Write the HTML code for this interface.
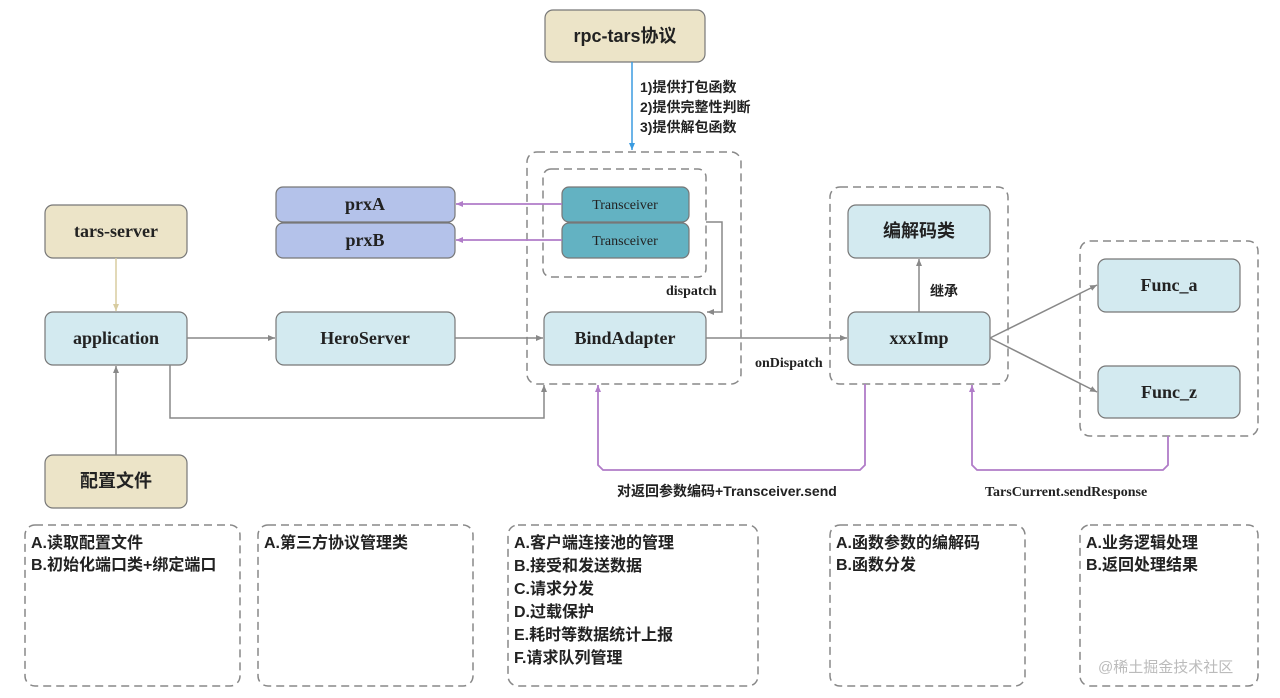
<!DOCTYPE html>
<html><head><meta charset="utf-8"><style>
body{margin:0;background:#fff}
svg{display:block}
text{font-family:"Liberation Serif","Noto Serif CJK SC",serif;font-weight:bold;fill:#222}
.cj{font-family:"Liberation Sans","Noto Sans CJK SC",sans-serif;font-weight:bold}
</style></head><body>
<svg width="1280" height="698" viewBox="0 0 1280 698" xmlns="http://www.w3.org/2000/svg">
<defs>
<marker id="ag" markerWidth="8" markerHeight="8" refX="7" refY="4" orient="auto" markerUnits="userSpaceOnUse"><path d="M0,1 L7,4 L0,7 Z" fill="#888"/></marker>
<marker id="ap" markerWidth="8" markerHeight="8" refX="7" refY="4" orient="auto" markerUnits="userSpaceOnUse"><path d="M0,1 L7,4 L0,7 Z" fill="#b07cc8"/></marker>
<marker id="ab" markerWidth="8" markerHeight="8" refX="7" refY="4" orient="auto" markerUnits="userSpaceOnUse"><path d="M0,1 L7,4 L0,7 Z" fill="#3a9be0"/></marker>
<marker id="ay" markerWidth="8" markerHeight="8" refX="7" refY="4" orient="auto" markerUnits="userSpaceOnUse"><path d="M0,1 L7,4 L0,7 Z" fill="#d8cca0"/></marker>
</defs>
<g fill="none" stroke="#888" stroke-width="1.5" stroke-dasharray="8,5">
<rect x="527" y="152" width="214" height="232" rx="10"/>
<rect x="543" y="169" width="163" height="108" rx="8"/>
<rect x="830" y="187" width="178" height="197" rx="10"/>
<rect x="1080" y="241" width="178" height="195" rx="10"/>
<rect x="25" y="525" width="215" height="161" rx="10"/>
<rect x="258" y="525" width="215" height="161" rx="10"/>
<rect x="508" y="525" width="250" height="161" rx="10"/>
<rect x="830" y="525" width="195" height="161" rx="10"/>
<rect x="1080" y="525" width="178" height="161" rx="10"/>
</g>
<g stroke="#777" stroke-width="1.2">
<rect x="545" y="10" width="160" height="52" rx="8" fill="#ece4c8"/>
<rect x="45" y="205" width="142" height="53" rx="8" fill="#ece4c8"/>
<rect x="45" y="455" width="142" height="53" rx="8" fill="#ece4c8"/>
<rect x="45" y="312" width="142" height="53" rx="8" fill="#d3eaf0"/>
<rect x="276" y="312" width="179" height="53" rx="8" fill="#d3eaf0"/>
<rect x="544" y="312" width="162" height="53" rx="8" fill="#d3eaf0"/>
<rect x="848" y="312" width="142" height="53" rx="8" fill="#d3eaf0"/>
<rect x="848" y="205" width="142" height="53" rx="8" fill="#d3eaf0"/>
<rect x="1098" y="259" width="142" height="53" rx="8" fill="#d3eaf0"/>
<rect x="1098" y="366" width="142" height="52" rx="8" fill="#d3eaf0"/>
<rect x="276" y="187" width="179" height="35" rx="7" fill="#b4c2ea"/>
<rect x="276" y="223" width="179" height="35" rx="7" fill="#b4c2ea"/>
<rect x="562" y="187" width="127" height="35" rx="7" fill="#63b2c2"/>
<rect x="562" y="223" width="127" height="35" rx="7" fill="#63b2c2"/>
</g>
<g fill="none" stroke="#888" stroke-width="1.5">
<line x1="187" y1="338" x2="275" y2="338" marker-end="url(#ag)"/>
<line x1="455" y1="338" x2="543" y2="338" marker-end="url(#ag)"/>
<line x1="706" y1="338" x2="847" y2="338" marker-end="url(#ag)"/>
<line x1="116" y1="455" x2="116" y2="366" marker-end="url(#ag)"/>
<polyline points="170,365 170,418 544,418 544,385" marker-end="url(#ag)"/>
<polyline points="706,222 722,222 722,312 707,312" marker-end="url(#ag)"/>
<line x1="919" y1="312" x2="919" y2="259" marker-end="url(#ag)"/>
<line x1="990" y1="338" x2="1097" y2="285" marker-end="url(#ag)"/>
<line x1="990" y1="338" x2="1097" y2="392" marker-end="url(#ag)"/>
</g>
<line x1="116" y1="258" x2="116" y2="311" stroke="#d8cca0" stroke-width="1.5" marker-end="url(#ay)"/>
<line x1="632" y1="62" x2="632" y2="150" stroke="#3a9be0" stroke-width="1.5" marker-end="url(#ab)"/>
<g fill="none" stroke="#b07cc8" stroke-width="1.8">
<line x1="562" y1="204" x2="456" y2="204" marker-end="url(#ap)"/>
<line x1="562" y1="240" x2="456" y2="240" marker-end="url(#ap)"/>
<polyline points="865,384 865,465 860,470 603,470 598,465 598,385" marker-end="url(#ap)"/>
<polyline points="1168,436 1168,465 1163,470 977,470 972,465 972,385" marker-end="url(#ap)"/>
</g>
<g font-size="18" text-anchor="middle">
<text x="625" y="42" class="cj">rpc-tars协议</text>
<text x="116" y="237">tars-server</text>
<text x="116" y="344">application</text>
<text x="116" y="487" class="cj">配置文件</text>
<text x="365" y="344">HeroServer</text>
<text x="625" y="344">BindAdapter</text>
<text x="919" y="344">xxxImp</text>
<text x="919" y="237" class="cj">编解码类</text>
<text x="1169" y="291">Func_a</text>
<text x="1169" y="398">Func_z</text>
<text x="365" y="210">prxA</text>
<text x="365" y="246">prxB</text>
</g>
<g font-size="14" text-anchor="middle">
<text x="625" y="209" style="font-weight:normal">Transceiver</text>
<text x="625" y="245" style="font-weight:normal">Transceiver</text>
</g>
<g font-size="14">
<text x="640" y="92" class="cj">1)提供打包函数</text>
<text x="640" y="112" class="cj">2)提供完整性判断</text>
<text x="640" y="132" class="cj">3)提供解包函数</text>
<text x="666" y="295">dispatch</text>
<text x="755" y="367">onDispatch</text>
<text x="930" y="296" class="cj">继承</text>
<text x="617" y="496" class="cj">对返回参数编码+Transceiver.send</text>
<text x="985" y="496">TarsCurrent.sendResponse</text>
</g>
<g font-size="16">
<text x="31" y="548" class="cj">A.读取配置文件</text>
<text x="31" y="570" class="cj">B.初始化端口类+绑定端口</text>
<text x="264" y="548" class="cj">A.第三方协议管理类</text>
<text x="514" y="548" class="cj">A.客户端连接池的管理</text>
<text x="514" y="571" class="cj">B.接受和发送数据</text>
<text x="514" y="594" class="cj">C.请求分发</text>
<text x="514" y="617" class="cj">D.过载保护</text>
<text x="514" y="640" class="cj">E.耗时等数据统计上报</text>
<text x="514" y="663" class="cj">F.请求队列管理</text>
<text x="836" y="548" class="cj">A.函数参数的编解码</text>
<text x="836" y="570" class="cj">B.函数分发</text>
<text x="1086" y="548" class="cj">A.业务逻辑处理</text>
<text x="1086" y="570" class="cj">B.返回处理结果</text>
</g>
<text x="1098" y="672" font-size="15" class="cj" style="fill:#bbb;font-weight:normal">@稀土掘金技术社区</text>
</svg>
</body></html>
